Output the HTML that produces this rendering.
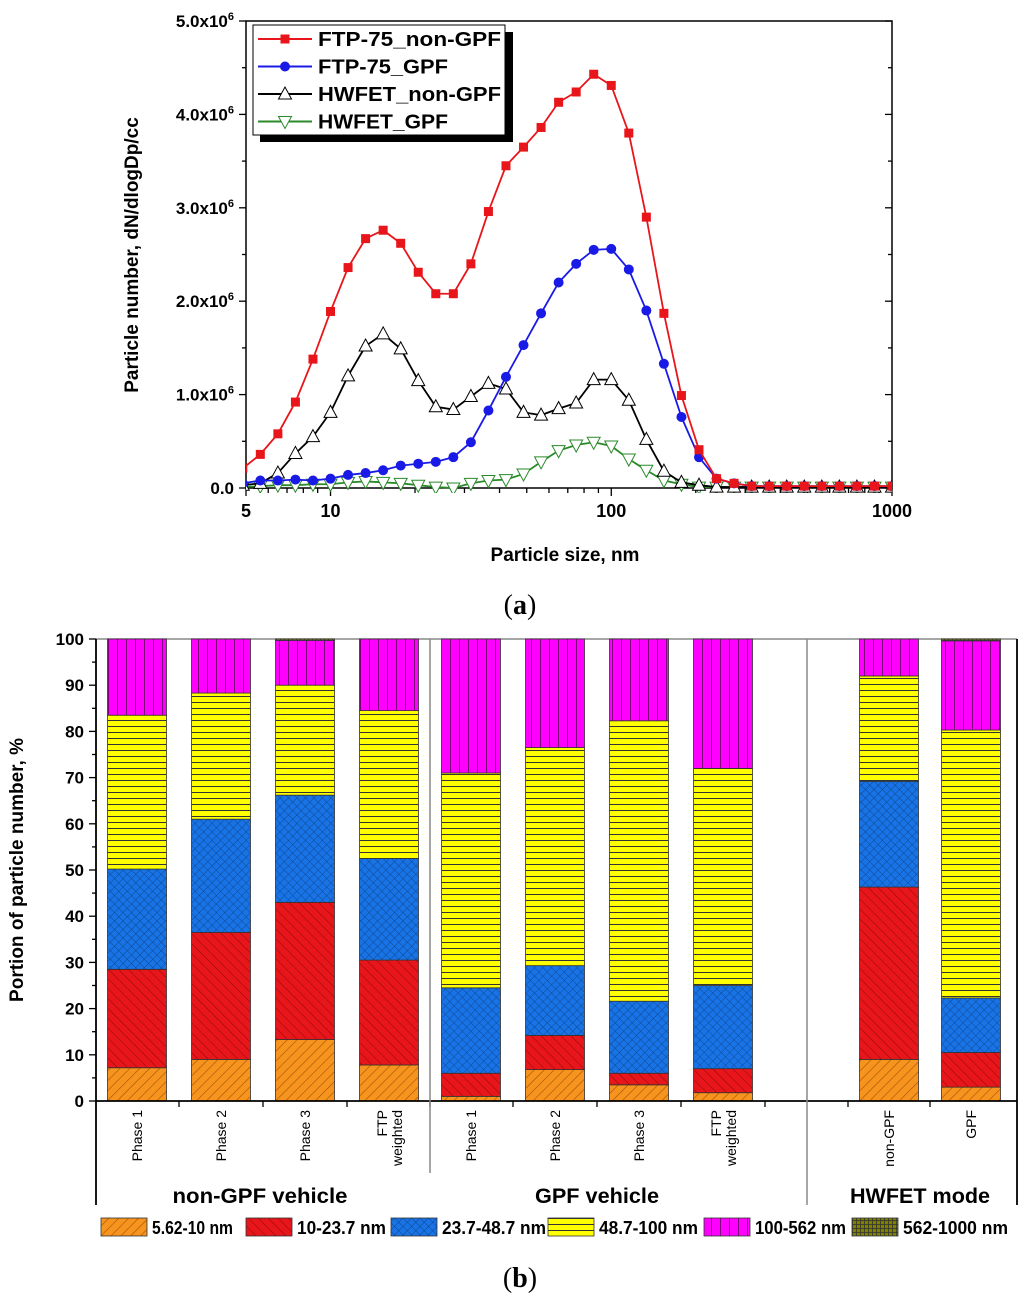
<!DOCTYPE html>
<html><head><meta charset="utf-8"><style>
html,body{margin:0;padding:0;background:#fff;}
svg{display:block;font-family:"Liberation Sans",Arial,sans-serif;}
</style></head><body>
<svg id="fig" width="1024" height="1301" viewBox="0 0 1024 1301" xmlns="http://www.w3.org/2000/svg">
<defs>
<pattern id="pOr" width="7" height="7" patternUnits="userSpaceOnUse" patternTransform="rotate(45)"><rect width="7" height="7" fill="#f7941d"/><line x1="0" y1="0" x2="0" y2="7" stroke="#a0520c" stroke-width="1.2"/></pattern>
<pattern id="pRd" width="7" height="7" patternUnits="userSpaceOnUse" patternTransform="rotate(-45)"><rect width="7" height="7" fill="#e8161b"/><line x1="0" y1="0" x2="0" y2="7" stroke="#8a0a0c" stroke-width="1"/></pattern>
<pattern id="pBl" width="6" height="6" patternUnits="userSpaceOnUse" patternTransform="rotate(45)"><rect width="6" height="6" fill="#1873e6"/><line x1="0" y1="0" x2="0" y2="6" stroke="#0d3f80" stroke-width="0.8"/><line x1="0" y1="0" x2="6" y2="0" stroke="#0d3f80" stroke-width="0.8"/></pattern>
<pattern id="pYe" width="8" height="6" patternUnits="userSpaceOnUse"><rect width="8" height="6" fill="#ffff00"/><line x1="0" y1="0.5" x2="8" y2="0.5" stroke="#333" stroke-width="1"/></pattern>
<pattern id="pMg" width="9" height="8" patternUnits="userSpaceOnUse"><rect width="9" height="8" fill="#ff00ff"/><line x1="0.5" y1="0" x2="0.5" y2="8" stroke="#7a007a" stroke-width="1"/></pattern>
<pattern id="pOl" width="4" height="4" patternUnits="userSpaceOnUse"><rect width="4" height="4" fill="#808000"/><line x1="0.5" y1="0" x2="0.5" y2="4" stroke="#333" stroke-width="0.8"/><line x1="0" y1="0.5" x2="4" y2="0.5" stroke="#333" stroke-width="0.8"/></pattern>
<clipPath id="clipTop"><rect x="246" y="15" width="646" height="478"/></clipPath>
</defs>
<g id="topChart"></g>
<g id="botChart"></g>
<text x="520" y="614" font-family="Liberation Serif,serif" font-size="28" text-anchor="middle">(<tspan font-weight="bold">a</tspan>)</text>
<text x="520" y="1287" font-family="Liberation Serif,serif" font-size="28" text-anchor="middle">(<tspan font-weight="bold">b</tspan>)</text>
</svg>
<script>
// ---- Top chart data ----
const binStart = -5; // bin index k -> diameter 10*10^(k/16)
const ftpNonGPF = [0.21,0.36,0.58,0.92,1.38,1.89,2.36,2.67,2.76,2.62,2.31,2.08,2.08,2.40,2.96,3.45,3.65,3.86,4.13,4.24,4.43,4.31,3.80,2.90,1.87,0.99,0.41,0.10,0.05,0.02,0.02,0.02,0.02,0.02,0.02,0.02,0.02,0.02];
const ftpGPF = [0.05,0.08,0.08,0.09,0.08,0.10,0.14,0.16,0.19,0.24,0.26,0.28,0.33,0.49,0.83,1.19,1.53,1.87,2.20,2.40,2.55,2.56,2.34,1.90,1.33,0.76,0.33,0.10,0.05,0.02,0.02,0.02,0.02,0.02,0.02,0.02,0.02,0.02];
const hwNonGPF = [0.03,0.05,0.16,0.37,0.55,0.81,1.20,1.52,1.65,1.49,1.15,0.87,0.84,0.98,1.12,1.06,0.81,0.78,0.85,0.91,1.16,1.16,0.94,0.52,0.18,0.06,0.03,0.01,0.01,0.01,0.01,0.01,0.01,0.01,0.01,0.01,0.01,0.01];
const hwGPF = [0.01,0.02,0.03,0.03,0.04,0.04,0.06,0.07,0.06,0.05,0.03,0.01,0.00,0.05,0.08,0.09,0.15,0.28,0.40,0.46,0.49,0.45,0.31,0.19,0.08,0.04,0.01,0.01,0.01,0.01,0.01,0.01,0.01,0.01,0.01,0.01,0.01,0.01];
const yTicksTop = [0,1,2,3,4,5];
const xTickLabelsTop = [5,10,100,1000];

// ---- Bottom chart data (percent per size bin) ----
const barCategories = ["Phase 1","Phase 2","Phase 3","FTP weighted","Phase 1","Phase 2","Phase 3","FTP weighted","non-GPF","GPF"];
const s562_10   = [7.2,9.0,13.3,7.8,1.0,6.8,3.5,1.8,9.0,3.0];
const s10_237   = [21.3,27.5,29.7,22.7,5.0,7.4,2.5,5.2,37.3,7.5];
const s237_487  = [21.7,24.5,23.2,22.0,18.5,15.1,15.6,18.0,22.9,11.8];
const s487_100  = [33.3,27.3,23.8,32.0,46.5,47.2,60.7,47.0,22.8,58.0];
const s100_562  = [16.5,11.7,9.7,15.5,29.0,23.5,17.7,28.0,8.0,19.3];
const s562_1000 = [0,0,0.3,0,0,0,0,0,0,0.4];
const seriesNames = ["5.62-10 nm","10-23.7 nm","23.7-48.7 nm","48.7-100 nm","100-562 nm","562-1000 nm"];
const yTicksBot = [0,10,20,30,40,50,60,70,80,90,100];

const NS="http://www.w3.org/2000/svg";
function mk(parent,tag,attrs,text){const el=document.createElementNS(NS,tag);for(const k in attrs)el.setAttribute(k,attrs[k]);if(text!==undefined)el.textContent=text;parent.appendChild(el);return el;}

// ---------- TOP ----------
const topG=document.getElementById('topChart');
const X0=246,X1=892,Y0=488,Y1=21;
const sx=d=>X0+(X1-X0)*Math.log10(d/5)/Math.log10(200);
const sy=v=>Y0-(Y0-Y1)*v/5;
let node=mk(topG,'rect',{x:X0,y:Y1,width:X1-X0,height:Y0-Y1,fill:'none',stroke:'#000','stroke-width':1.5});


for(let v=0;v<=5;v+=0.5){
  const y=sy(v);const L=(v%1===0)?7:4;
  mk(topG,'line',{x1:X0-L,y1:y,x2:X0,y2:y,stroke:'#000','stroke-width':1.3});
  mk(topG,'line',{x1:X1,y1:y,x2:X1-L,y2:y,stroke:'#000','stroke-width':1.3});
}
yTicksTop.forEach(v=>{
  const t=mk(topG,'text',{x:X0-12,y:sy(v)+6,'text-anchor':'end','font-size':17,'font-weight':'bold'});
  
  
  if(v===0){t.textContent='0.0';}else{t.textContent=v+'.0x10';mk(t,'tspan',{dy:-7,'font-size':11},'6');}
});
[5,6,7,8,9,10,20,30,40,50,60,70,80,90,100,200,300,400,500,600,700,800,900,1000].forEach(d=>{
  const x=sx(d);const maj=[5,10,100,1000].includes(d);
  mk(topG,'line',{x1:x,y1:Y0,x2:x,y2:Y0+(maj?8:5),stroke:'#000','stroke-width':1.3});
});
xTickLabelsTop.forEach(d=>{
  const t=mk(topG,'text',{x:sx(d),y:Y0+29,'text-anchor':'middle','font-size':18,'font-weight':'bold'},String(d));
  
  
});
node=mk(topG,'text',{x:565,y:561,'text-anchor':'middle','font-size':19,'font-weight':'bold'},'Particle size, nm');


node=mk(topG,'text',{x:138,y:255,'text-anchor':'middle','font-size':19,'font-weight':'bold',transform:'rotate(-90 138 255)'},'Particle number, dN/dlogDp/cc');



const series=[
  {data:ftpNonGPF,color:'#e8161b',m:'sq',name:'FTP-75_non-GPF'},
  {data:ftpGPF,color:'#1a1ae6',m:'ci',name:'FTP-75_GPF'},
  {data:hwNonGPF,color:'#000',m:'tu',name:'HWFET_non-GPF'},
  {data:hwGPF,color:'#2a8a2a',m:'td',name:'HWFET_GPF'}
];
function marker(g,type,x,y,c){
  if(type==='sq')return mk(g,'rect',{x:x-4.5,y:y-4.5,width:9,height:9,fill:c});
  if(type==='ci')return mk(g,'circle',{cx:x,cy:y,r:5,fill:c});
  if(type==='tu')return mk(g,'polygon',{points:`${x},${y-7} ${x-6.5},${y+5} ${x+6.5},${y+5}`,fill:'#fff',stroke:c,'stroke-width':1});
  return mk(g,'polygon',{points:`${x},${y+7} ${x-6.5},${y-5} ${x+6.5},${y-5}`,fill:'#fff',stroke:c,'stroke-width':1});
}
const plotG=mk(topG,'g',{'clip-path':'url(#clipTop)'});
[3,2,1,0].forEach(si=>{
  const s=series[si];
  const g=mk(plotG,'g',{});
  
  
  const pts=s.data.map((v,i)=>[sx(10*Math.pow(10,(binStart+i)/16)),sy(v)]);
  mk(g,'polyline',{points:pts.map(p=>p.join(',')).join(' '),fill:'none',stroke:s.color,'stroke-width':1.8});
  pts.forEach(p=>{const m=marker(g,s.m,p[0],p[1],s.color);
    
    });
});
const lg=mk(topG,'g',{});


mk(lg,'rect',{x:260,y:32,width:253,height:110,fill:'#000'});
mk(lg,'rect',{x:253,y:25,width:252,height:110,fill:'#fff',stroke:'#000','stroke-width':1});
series.forEach((s,i)=>{
  const y=39+i*27.5;
  const g=mk(lg,'g',{});
  
  
  mk(g,'line',{x1:258,y1:y,x2:312,y2:y,stroke:s.color,'stroke-width':2});
  marker(g,s.m,285,y,s.color);
  const tt=mk(g,'text',{x:318,y:y+7,'font-size':20,'font-weight':'bold'},s.name);
  tt.setAttribute('textLength',[183,130,183,130][i]);
  tt.setAttribute('lengthAdjust','spacingAndGlyphs');
});

// ---------- BOTTOM ----------
const botG=document.getElementById('botChart');
const BX0=96,BX1=1017,BY0=1101,BY1=639;
const by=v=>BY0-(BY0-BY1)*v/100;
const centers=[137,221,305,389,471,555,639,723,889,971];
const bw=59;
node=mk(botG,'line',{x1:BX0,y1:BY1,x2:BX1,y2:BY1,stroke:'#888','stroke-width':1.5});


const fills=['url(#pOr)','url(#pRd)','url(#pBl)','url(#pYe)','url(#pMg)','url(#pOl)'];
const all=[s562_10,s10_237,s237_487,s487_100,s100_562,s562_1000];
barCategories.forEach((c,i)=>{
  const g=mk(botG,'g',{});
  
  
  let cum=0;
  all.forEach((arr,j)=>{
    const v=arr[i];if(v<=0)return;
    const r=mk(g,'rect',{x:centers[i]-bw/2,y:by(cum+v),width:bw,height:by(cum)-by(cum+v),fill:fills[j],stroke:'#333','stroke-width':0.8});
    
    
    cum+=v;
  });
  const lines=c==='FTP weighted'?['FTP','weighted']:[c];
  lines.forEach((ln,k)=>{
    const xx=centers[i]+5-(lines.length-1)*7+k*15;
    const t=mk(botG,'text',{x:xx,y:1110,'text-anchor':'end','font-size':14,transform:`rotate(-90 ${xx} 1110)`},ln);
    
    
  });
});
[179,263,347,430,513,597,681,765,848,930].forEach(x=>mk(botG,'line',{x1:x,y1:BY0,x2:x,y2:BY0+6,stroke:'#000','stroke-width':1.3}));
mk(botG,'line',{x1:BX0,y1:BY0,x2:BX1,y2:BY0,stroke:'#000','stroke-width':1.8});
mk(botG,'line',{x1:BX0,y1:BY1,x2:BX0,y2:1205,stroke:'#000','stroke-width':1.8});
mk(botG,'line',{x1:BX1,y1:BY1,x2:BX1,y2:1205,stroke:'#000','stroke-width':1.8});
[430,807].forEach(x=>{const l=mk(botG,'line',{x1:x,y1:BY1,x2:x,y2:x===430?1173:1205,stroke:'#888','stroke-width':1.5});
  
  });
for(let v=0;v<=100;v+=5){const y=by(v);mk(botG,'line',{x1:BX0-(v%10===0?7:4),y1:y,x2:BX0,y2:y,stroke:'#000','stroke-width':1.3});}
yTicksBot.forEach(v=>{const t=mk(botG,'text',{x:BX0-12,y:by(v)+6,'text-anchor':'end','font-size':17,'font-weight':'bold'},String(v));
  
  });
node=mk(botG,'text',{x:23,y:870,'text-anchor':'middle','font-size':19,'font-weight':'bold',transform:'rotate(-90 23 870)'},'Portion of particle number, %');


[[260,'non-GPF vehicle',175],[597,'GPF vehicle',124],[920,'HWFET mode',140]].forEach(([x,t,w])=>{
  const el=mk(botG,'text',{x:x,y:1203,'text-anchor':'middle','font-size':21,'font-weight':'bold',textLength:w,lengthAdjust:'spacingAndGlyphs'},t);
  
  
});
const lgb=mk(botG,'g',{});


const legBoxX=[101,246,391,548,704,852];
const legTextW=[81,89,104,99,91,105];
legBoxX.forEach((bx,j)=>{
  const g=mk(lgb,'g',{});
  
  
  mk(g,'rect',{x:bx,y:1218,width:46,height:18,fill:fills[j],stroke:'#333','stroke-width':0.8});
  mk(g,'text',{x:bx+51,y:1234,'font-size':18,'font-weight':'bold',textLength:legTextW[j],lengthAdjust:'spacingAndGlyphs'},seriesNames[j]);
});
</script>
</body></html>
